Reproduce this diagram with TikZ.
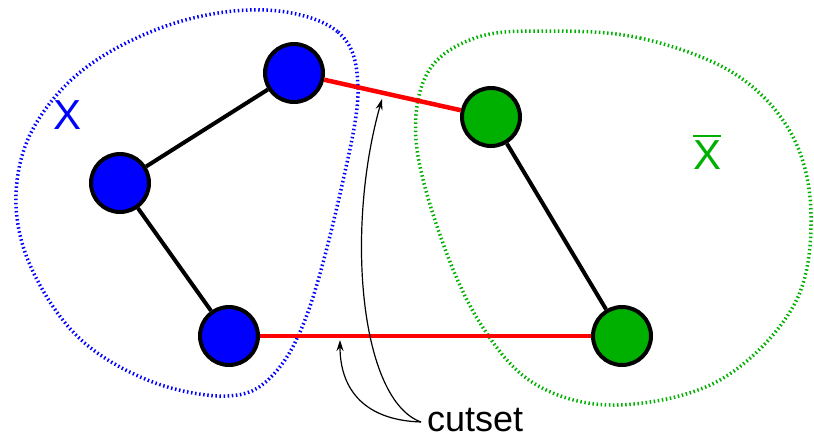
\documentclass[tikz,border=0pt]{standalone}
\usepackage{fontspec}
\setmainfont{Liberation Sans}
\usetikzlibrary{arrows.meta}
\definecolor{setblue}{RGB}{0,0,255}
\definecolor{setgreen}{RGB}{0,176,0}
\definecolor{cutred}{RGB}{255,0,0}
\tikzset{
  vertex/.style={circle, draw=black, line width=4pt, minimum size=58pt, inner sep=0pt},
  bluevertex/.style={vertex, fill=setblue},
  greenvertex/.style={vertex, fill=setgreen},
  edge/.style={draw=black, line width=4pt},
  cutedge/.style={draw=cutred, line width=4.5pt},
  region/.style={line width=3.5pt, dash pattern=on 1.5pt off 2.6pt},
  pointer/.style={draw=black, line width=1.2pt, -{Stealth[length=11pt,width=7pt]}},
  setlabel/.style={font=\fontsize{42}{48}\selectfont, inner sep=0pt}
}
\begin{document}
\begin{tikzpicture}[x=1pt,y=-1pt]
\useasboundingbox (0,0) rectangle (814,437);

% the two vertex sets
\draw[region, setblue] plot[smooth cycle, tension=0.6] coordinates {
  (267,10) (338,32) (358,88) (342,185) (308,312) (272,376) (227,396) (150,381)
  (78,337) (30,265) (16,195) (34,127) (88,66) (175,23)};
\draw[region, setgreen] plot[smooth cycle, tension=0.6] coordinates {
  (543,31) (640,38) (735,74) (792,135) (811,215) (794,305) (720,380) (617,405)
  (535,384) (480,323) (440,235) (416,140) (428,72) (475,38)};

% vertices
\node[bluevertex] (a) at (294,73) {};
\node[bluevertex] (b) at (120,183) {};
\node[bluevertex] (c) at (229,336) {};
\node[greenvertex] (d) at (491,117) {};
\node[greenvertex] (e) at (622,336) {};

% edges inside the sets
\draw[edge] (a) -- (b);
\draw[edge] (b) -- (c);
\draw[edge] (d) -- (e);

% cut edges
\draw[cutedge] (a) -- (d);
\draw[cutedge] (c) -- (e);

% labels
\node[setlabel, text=setblue] (xlab) at (68,115) {X};
\node[setlabel, text=setgreen, anchor=south] (xbarlab) at (707,170)
  {\setbox0=\hbox{X}\vbox{\hrule height 2.2pt width \wd0 \kern3.5pt \box0}};
\node[font=\fontsize{36}{42}\selectfont, inner sep=0pt, anchor=base west] (cut) at (427,431) {cutset};

% pointers to the cut edges
\coordinate (src) at (421,422);
\coordinate (tipa) at (382,99);
\coordinate (tipc) at (340,340);
\draw[pointer] (src) .. controls (360,400) and (345,230) .. (tipa);
\draw[pointer] (src) .. controls (360,420) and (340,385) .. (tipc);
\end{tikzpicture}
\end{document}
